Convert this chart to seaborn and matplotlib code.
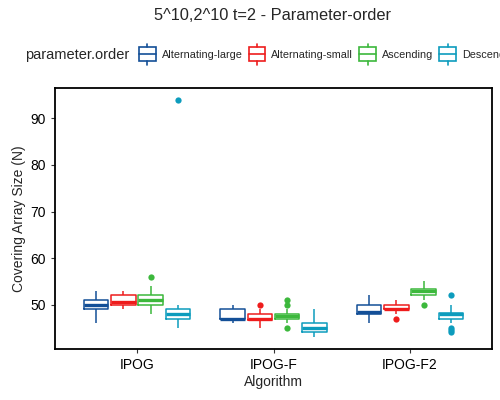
import pandas as pd
import matplotlib
matplotlib.use("Agg")
import matplotlib.pyplot as plt
import seaborn as sns
from matplotlib.patches import Patch, Rectangle
from matplotlib.lines import Line2D
from matplotlib.legend_handler import HandlerBase

# values (covering array sizes per run)
algorithms = ["IPOG", "IPOG-F", "IPOG-F2"]
orders = ["Alternating-large", "Alternating-small", "Ascending", "Descending"]
colors = ["#134f97", "#ee1c1c", "#3cb83c", "#0d9cbd"]

ipog_alt_large = [46, 48, 49, 49, 49, 50, 50, 50, 51, 51, 52, 52, 53]
ipog_alt_small = [49, 49, 50, 50, 50, 50, 50, 51, 51, 52, 52, 52, 53, 53]
ipog_ascending = [48, 49, 50, 50, 50, 51, 51, 51, 52, 52, 53, 54, 56]
ipog_descending = [45, 46, 47, 47, 47, 48, 48, 48, 49, 49, 49, 50, 94]

ipogf_alt_large = [46, 46, 47, 47, 47, 47, 47, 48, 48, 49, 49, 50, 50]
ipogf_alt_small = [45, 46, 46, 46, 47, 47, 47, 47, 47, 47, 48, 48, 48, 48, 49, 50]
ipogf_ascending = [45, 46, 47, 47, 47, 47, 47, 47, 48, 48, 48, 48, 48, 49, 50, 51]
ipogf_descending = [43, 43, 44, 44, 44, 45, 45, 45, 46, 46, 47, 48, 49]

ipogf2_alt_large = [46, 47, 47, 48, 48, 48, 48, 48, 49, 49, 49, 50, 50, 51, 51, 52]
ipogf2_alt_small = [47, 48, 48, 49, 49, 49, 49, 49, 50, 50, 50, 51, 51]
ipogf2_ascending = [50, 51, 52, 52, 52, 52, 53, 53, 53, 53, 53, 53, 54, 54, 55, 55]
ipogf2_descending = [44, 44.5, 45, 46, 47, 47, 47, 47, 47, 48, 48, 48, 48, 48, 48, 49, 49, 49, 50, 52]

runs = {
    ("IPOG", "Alternating-large"): ipog_alt_large,
    ("IPOG", "Alternating-small"): ipog_alt_small,
    ("IPOG", "Ascending"): ipog_ascending,
    ("IPOG", "Descending"): ipog_descending,
    ("IPOG-F", "Alternating-large"): ipogf_alt_large,
    ("IPOG-F", "Alternating-small"): ipogf_alt_small,
    ("IPOG-F", "Ascending"): ipogf_ascending,
    ("IPOG-F", "Descending"): ipogf_descending,
    ("IPOG-F2", "Alternating-large"): ipogf2_alt_large,
    ("IPOG-F2", "Alternating-small"): ipogf2_alt_small,
    ("IPOG-F2", "Ascending"): ipogf2_ascending,
    ("IPOG-F2", "Descending"): ipogf2_descending,
}
rows = []
for (alg, order), vals in runs.items():
    for v in vals:
        rows.append({"Algorithm": alg, "parameter.order": order, "N": v})
df = pd.DataFrame(rows)


class BoxKey(HandlerBase):
    # ggplot-like legend key: small box with whiskers and a median line
    def create_artists(self, legend, orig, xd, yd, w, h, fontsize, trans):
        c = orig.get_edgecolor()
        cx = xd + w / 2
        cy = yd + h / 2
        bh = 1.25 * fontsize
        tot = 1.95 * fontsize
        box = Rectangle((xd, cy - bh / 2), w, bh, fc="white", ec=c, lw=1.2, transform=trans)
        med = Line2D([xd, xd + w], [cy, cy], color=c, lw=1.2, transform=trans)
        w1 = Line2D([cx, cx], [cy - tot / 2, cy - bh / 2], color=c, lw=1.2, transform=trans)
        w2 = Line2D([cx, cx], [cy + bh / 2, cy + tot / 2], color=c, lw=1.2, transform=trans)
        return [box, med, w1, w2]


sns.set_style("white")
plt.rcParams["font.family"] = ["Liberation Sans", "DejaVu Sans"]

fig = plt.figure(figsize=(5, 4), dpi=100)
ax = fig.add_axes([0.11, 0.1275, 0.874, 0.6525])

sns.boxplot(data=df, x="Algorithm", y="N", hue="parameter.order",
            order=algorithms, hue_order=orders, palette=colors,
            fill=False, width=0.8, gap=0.1, linewidth=1.1, showcaps=False,
            whis=1.5, medianprops=dict(linewidth=2.4),
            flierprops=dict(marker="o", markersize=4.5, markeredgewidth=0),
            legend=False, ax=ax)

# solid outlier dots in the group colour
for cont, col in zip(ax.containers, colors):
    for fl in cont.fliers:
        fl.set_markerfacecolor(col)
        fl.set_markeredgecolor(col)

lo, hi = df["N"].min(), df["N"].max()
pad = 0.05 * (hi - lo)
ax.set_ylim(lo - pad, hi + pad)
ax.set_xlim(-0.6, 2.6)
ax.set_yticks([50, 60, 70, 80, 90])

for s in ax.spines.values():
    s.set_color("black")
    s.set_linewidth(1.3)
ax.tick_params(axis="both", length=3, width=0.8, color="#333333",
               labelsize=10, labelcolor="black", bottom=True, left=True)
ax.set_xlabel("Algorithm", fontsize=10, labelpad=2)
ax.set_ylabel("Covering Array Size (N)", fontsize=10, labelpad=3)

fig.text(273 / 500, 1 - 15 / 400, "5^10,2^10 t=2 - Parameter-order",
         ha="center", va="center", fontsize=11.8)

fig.text(25 / 500, 1 - 55 / 400, "parameter.order", ha="left", va="center", fontsize=10.5)
handles = [Patch(facecolor="white", edgecolor=c) for c in colors]
fig.legend(handles, orders, loc="center left", bbox_to_anchor=(139 / 500, 1 - 55 / 400),
           ncol=4, frameon=False, fontsize=7.8, handlelength=1.55, handleheight=0.7,
           handletextpad=0.55, columnspacing=0.55, borderpad=0, borderaxespad=0,
           handler_map={Patch: BoxKey()})

fig.savefig("out.png", dpi=100)
